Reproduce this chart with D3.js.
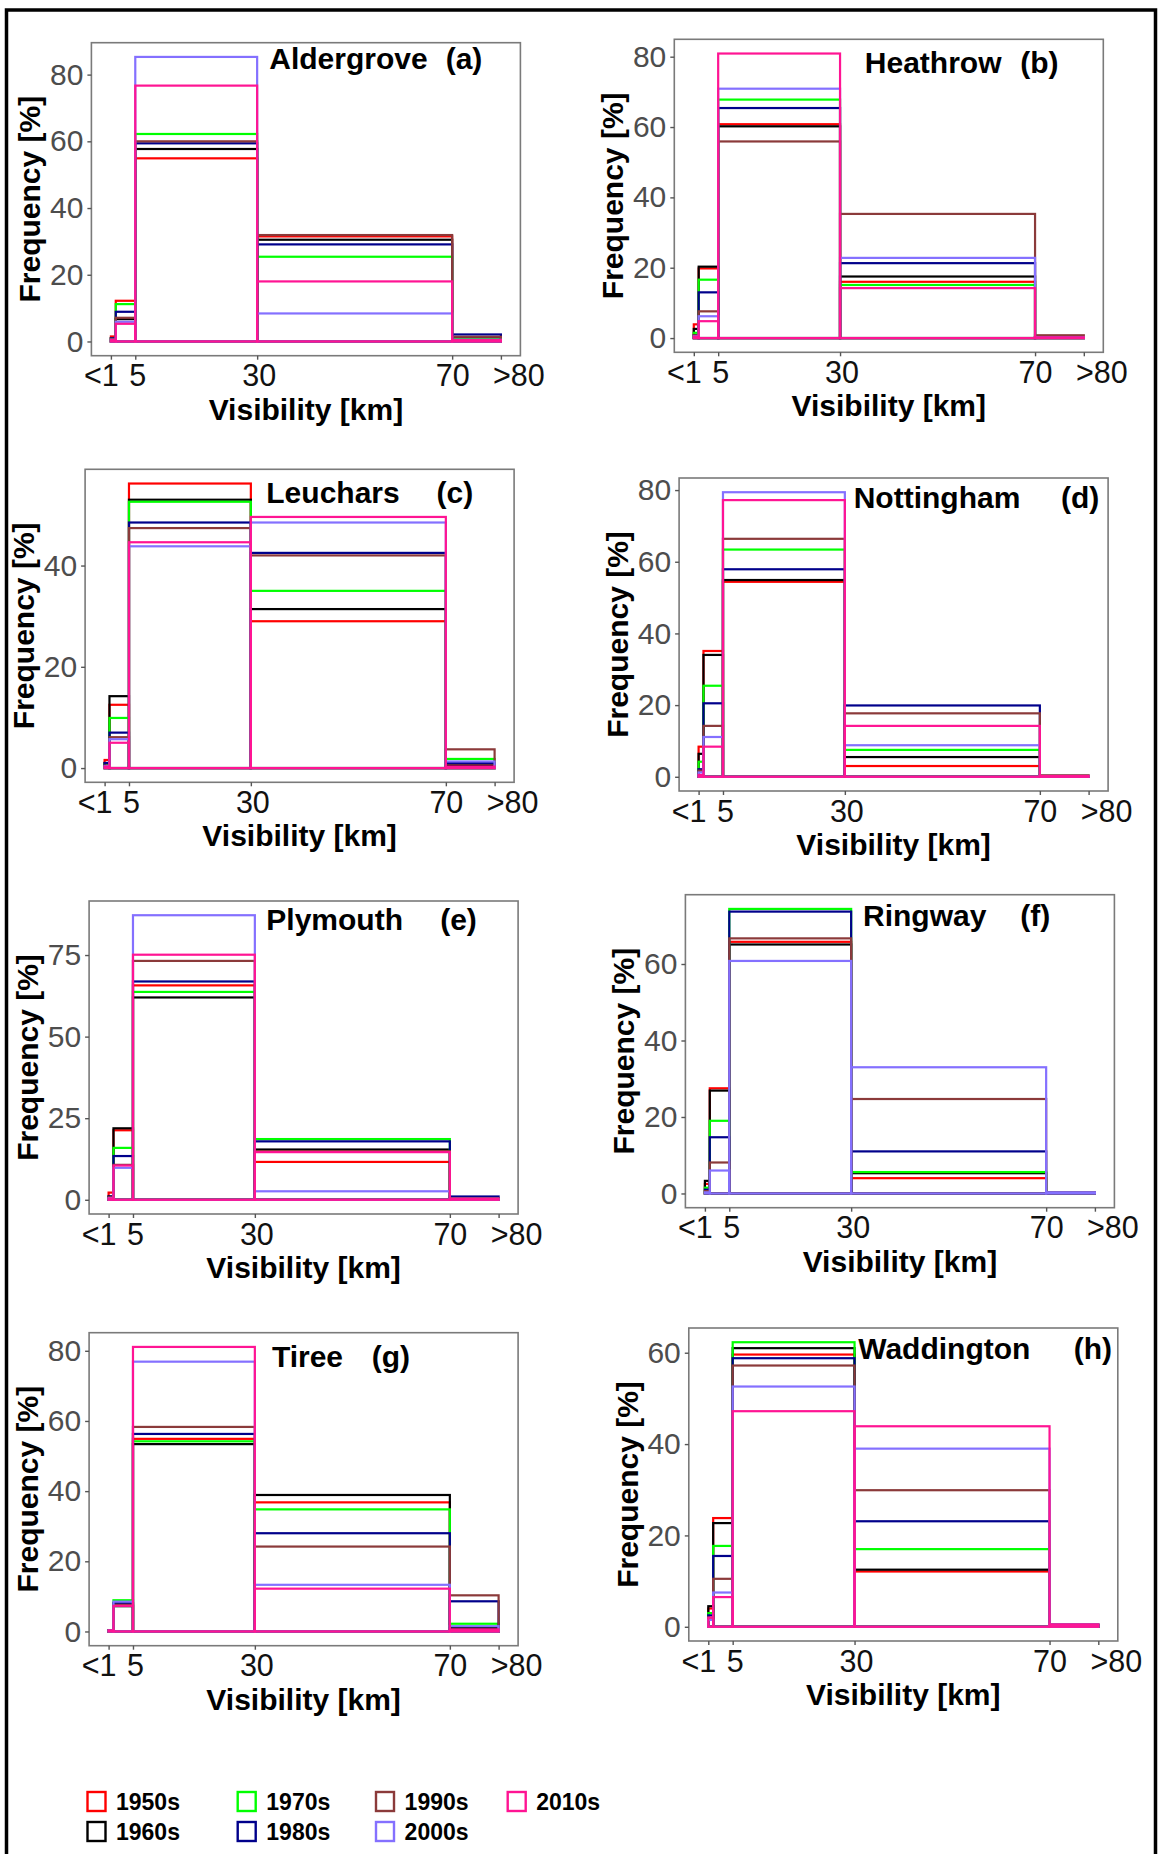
<!DOCTYPE html>
<html><head><meta charset="utf-8">
<script src="https://cdn.jsdelivr.net/npm/d3@7/dist/d3.min.js"></script>
<style>
body{margin:0;background:#fff;}
svg{display:block;font-family:"Liberation Sans",Arial,sans-serif;}
</style></head><body>
<svg id="chart" width="1160" height="1854"></svg>
<script>
// ---------------- DATA ----------------
const decades = ["1950s","1960s","1970s","1980s","1990s","2000s","2010s"];
const binEdges = [0, 1, 5, 30, 70, 80];
const xTickValues = [0, 5, 30, 70, 80];
const xTickLabels = ["<1", "5", "30", "70", ">80"];
const stations = ["Aldergrove","Heathrow","Leuchars","Nottingham","Plymouth","Ringway","Tiree","Waddington"];
const panelLetters = ["(a)","(b)","(c)","(d)","(e)","(f)","(g)","(h)"];

// frequency [%] per decade, bins: <1, 1-5, 5-30, 30-70, 70-80(>80)
const aldergrove = [
  [1.5, 12.2, 54.9, 31.5, 0.3],
  [1.0, 6.7, 57.7, 30.5, 1.2],
  [0.8, 11.2, 62.2, 25.4, 0.6],
  [1.0, 8.9, 59.4, 29.1, 2.1],
  [0.8, 7.1, 60.0, 31.9, 1.4],
  [0.5, 5.9, 85.3, 8.4, 0.5],
  [0.4, 5.3, 76.7, 18.0, 0.4]
];
const heathrow = [
  [3.9, 19.8, 60.8, 16.0, 0.2],
  [2.6, 20.3, 60.2, 17.5, 0.3],
  [1.5, 16.6, 67.8, 15.1, 0.2],
  [0.8, 13.0, 65.4, 21.3, 0.2],
  [0.8, 7.6, 55.9, 35.3, 0.8],
  [0.5, 6.2, 70.9, 22.8, 0.2],
  [0.4, 4.8, 80.9, 14.2, 0.2]
];
const leuchars = [
  [1.6, 12.5, 56.2, 29.0, 0.5],
  [1.0, 14.2, 53.0, 31.4, 0.5],
  [0.8, 9.9, 52.6, 35.0, 1.8],
  [1.0, 7.0, 48.5, 42.5, 1.0],
  [0.5, 6.1, 47.4, 42.0, 3.7],
  [0.4, 5.7, 43.8, 48.5, 1.3],
  [0.3, 5.0, 44.6, 49.6, 0.3]
];
const nottingham = [
  [8.4, 35.1, 54.4, 3.0, 0.2],
  [6.4, 34.0, 54.9, 5.5, 0.2],
  [4.2, 25.4, 63.4, 7.5, 0.2],
  [2.1, 20.5, 57.9, 19.9, 0.2],
  [1.7, 14.2, 66.4, 17.7, 0.4],
  [1.2, 11.1, 79.4, 8.8, 0.2],
  [0.5, 8.4, 77.2, 14.2, 0.2]
];
const plymouth = [
  [2.2, 21.3, 65.7, 11.6, 0.3],
  [1.0, 21.9, 62.0, 15.4, 0.4],
  [0.8, 15.9, 63.7, 18.6, 0.4],
  [1.0, 13.4, 66.9, 17.9, 1.0],
  [0.8, 10.7, 73.2, 14.9, 0.5],
  [0.5, 9.8, 87.2, 2.6, 0.3],
  [0.4, 10.5, 75.1, 14.6, 0.3]
];
const ringway = [
  [2.5, 27.5, 65.8, 4.0, 0.2],
  [3.3, 26.9, 65.1, 5.3, 0.2],
  [1.5, 19.0, 74.4, 5.6, 0.2],
  [1.0, 14.7, 73.7, 11.0, 0.2],
  [0.6, 8.1, 66.7, 24.7, 0.3],
  [0.3, 6.0, 60.8, 33.0, 0.3],
  null
];
const tiree = [
  [0.3, 8.0, 54.9, 36.8, 0.5],
  [0.3, 7.2, 53.4, 38.9, 1.0],
  [0.3, 8.9, 54.2, 34.8, 2.2],
  [0.3, 8.1, 56.3, 28.0, 8.6],
  [0.3, 7.6, 58.3, 24.2, 10.3],
  [0.3, 8.5, 76.9, 13.3, 1.5],
  [0.3, 7.3, 81.1, 12.2, 0.6]
];
const waddington = [
  [4.0, 23.8, 59.6, 12.1, 0.4],
  [4.5, 22.7, 61.0, 12.5, 0.4],
  [3.0, 17.7, 62.3, 17.0, 0.4],
  [2.5, 15.5, 58.8, 23.1, 0.4],
  [2.0, 10.5, 57.2, 29.9, 0.5],
  [1.5, 7.5, 52.6, 39.0, 0.5],
  [2.0, 6.5, 47.2, 43.9, 0.5]
];
const stationValues = [aldergrove, heathrow, leuchars, nottingham, plymouth, ringway, tiree, waddington];
const yTicks = [
  [0,20,40,60,80],[0,20,40,60,80],[0,20,40],[0,20,40,60,80],
  [0,25,50,75],[0,20,40,60],[0,20,40,60,80],[0,20,40,60]
];

// ---------------- STYLE / LAYOUT ----------------
const decadeColors = ["#FF0000","#000000","#00FF00","#00008B","#8B3A3A","#8470FF","#FF1493"];
const panelW = 429, panelH = 313;
const panelPos = [[91.4,42.7],[674.3,39.3],[85.1,469.3],[679.1,478],[89.1,901],[685.4,894.7],[89.1,1332.7],[688.8,1328]];
const titlePos = [[269.3,445.7,69.3],[864.8,1020.2,72.7],[266.3,436.5,503.3],[853.7,1060.9,508.3],
                  [266.3,440.2,930],[863,1020.2,926],[271.9,371.8,1367.3],[858.2,1073.8,1359.3]];
const xLabelShift = [-10, 2, 1.5, 0, 17.5];
const legendCols = [[86.5,116],[236.7,266.3],[375,404.6],[506.7,536.2]];
const legendRows = [1792, 1822];

const svg = d3.select("#chart");
svg.append("rect").attr("width",1160).attr("height",1854).attr("fill","#fff");

stations.forEach((name, si) => {
  const [px, py] = panelPos[si];
  const vals = stationValues[si];
  const maxV = d3.max(vals.filter(v => v), r => d3.max(r));
  const x = d3.scaleLinear().domain([-4, 84]).range([px, px + panelW]);
  const y = d3.scaleLinear().domain([-0.05*maxV, 1.05*maxV]).range([py + panelH, py]);
  const g = svg.append("g");

  // bars (outlined rectangles, one per bin per decade)
  const marks = g.append("g");
  vals.forEach((row, di) => {
    if (!row) return;
    marks.append("g").selectAll("rect").data(row).join("rect")
      .attr("x", (d,j) => x(binEdges[j]))
      .attr("width", (d,j) => x(binEdges[j+1]) - x(binEdges[j]))
      .attr("y", d => y(d))
      .attr("height", d => y(0) - y(d))
      .attr("fill","none")
      .attr("stroke", decadeColors[di])
      .attr("stroke-width", 2.2);
  });

  // panel border
  g.append("rect").attr("x",px).attr("y",py).attr("width",panelW).attr("height",panelH)
    .attr("fill","none").attr("stroke","#7a7a7a").attr("stroke-width",1.6);

  // x axis
  const xa = g.append("g").attr("transform",`translate(0,${py+panelH})`)
    .call(d3.axisBottom(x).tickValues(xTickValues).tickFormat((d,i)=>xTickLabels[i]).tickSize(4).tickPadding(5));
  xa.select(".domain").remove();
  xa.selectAll(".tick line").attr("stroke","#555").attr("stroke-width",1.4);
  xa.selectAll(".tick text").attr("font-size",30.5).attr("fill","#111")
    .attr("font-family","'Liberation Sans',Arial,sans-serif")
    .attr("dx",(d,i)=>xLabelShift[i]);

  // y axis
  const ya = g.append("g").attr("transform",`translate(${px},0)`)
    .call(d3.axisLeft(y).tickValues(yTicks[si]).tickSize(4).tickPadding(4));
  ya.select(".domain").remove();
  ya.selectAll(".tick line").attr("stroke","#555").attr("stroke-width",1.4);
  ya.selectAll(".tick text").attr("font-size",30).attr("fill","#4d4d4d")
    .attr("font-family","'Liberation Sans',Arial,sans-serif");

  // axis titles
  g.append("text").attr("x", px + panelW/2).attr("y", py + panelH + 64)
    .attr("text-anchor","middle").attr("font-size",30).attr("font-weight","bold")
    .text("Visibility [km]");
  g.append("text")
    .attr("transform",`translate(${px-51},${py+panelH/2}) rotate(-90)`)
    .attr("text-anchor","middle").attr("font-size",30).attr("font-weight","bold")
    .text("Frequency [%]");

  // panel title
  const [tx, lx, ty] = titlePos[si];
  g.append("text").attr("x",tx).attr("y",ty).attr("font-size",30).attr("font-weight","bold").text(name);
  g.append("text").attr("x",lx).attr("y",ty).attr("font-size",30).attr("font-weight","bold").text(panelLetters[si]);
});

// legend
const leg = svg.append("g");
decades.forEach((dec, i) => {
  const c = legendCols[Math.floor(i/2)], r = legendRows[i%2];
  leg.append("rect").attr("x",c[0]+1).attr("y",r).attr("width",18).attr("height",19)
    .attr("fill","none").attr("stroke",decadeColors[i]).attr("stroke-width",2.4);
  leg.append("text").attr("x",c[1]).attr("y",r+18).attr("font-size",23).attr("font-weight","bold").text(dec);
});

// outer frame
svg.append("path").attr("d","M6.5,1854 V10 H1155.5 V1854")
  .attr("fill","none").attr("stroke","#000").attr("stroke-width",3.5);
</script>
</body></html>
